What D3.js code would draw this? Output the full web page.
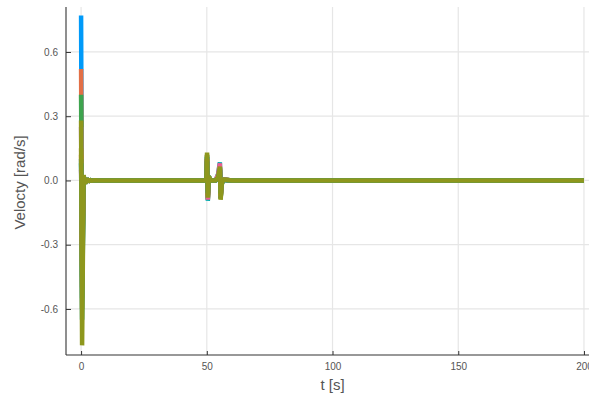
<!DOCTYPE html>
<html>
<head>
<meta charset="utf-8">
<script src="https://cdn.jsdelivr.net/npm/d3@7"></script>
<style>
  body { margin: 0; background: #fff; }
  svg { display: block; font-family: 'Liberation Sans', Arial, sans-serif; }
</style>
</head>
<body>
<svg id="chart" width="589" height="398"></svg>
<script>
// sample times [s], shared by every joint
const time = [0, 0.4, 1.0, 1.6, 2.2, 2.8, 3.5, 4.2, 5, 7, 49.8, 50.1, 50.4, 50.8, 51.4, 53.5, 54.5, 55.2, 55.5, 55.9, 56.5, 60, 100, 200]

// joint velocities [rad/s]
const v1 = [0.77, -0.55, 0.02, -0.014, 0.009, -0.005, 0.003, -0.001, 0.0005, 0, 0, 0.11, -0.07, 0.015, 0, 0, 0.01, 0.05, -0.07, -0.015, 0.004, 0, 0, 0]
const v2 = [0.52, -0.5, 0.018, -0.012, 0.008, -0.004, 0.002, -0.001, 0.0005, 0, 0, 0.1, -0.08, 0.012, 0, 0, 0.01, 0.06, -0.08, -0.012, 0.003, 0, 0, 0]
const v3 = [0.40, -0.45, 0.016, -0.011, 0.007, -0.004, 0.002, -0.001, 0, 0, 0, 0.12, -0.085, 0.018, 0, 0, 0.015, 0.06, -0.085, -0.02, 0.005, 0, 0, 0]
const v4 = [0.25, -0.35, 0.014, -0.009, 0.006, -0.003, 0.002, -0.001, 0, 0, 0, 0.09, -0.06, 0.01, 0, 0, 0.012, 0.05, -0.06, -0.01, 0.003, 0, 0, 0]
const v5 = [0.15, -0.6, 0.02, -0.013, 0.008, -0.005, 0.003, -0.001, 0.0005, 0, 0, 0.12, -0.09, 0.02, 0, 0, 0.015, 0.065, -0.085, -0.015, 0.004, 0, 0, 0]
const v6 = [0.10, -0.65, 0.022, -0.015, 0.009, -0.005, 0.003, -0.001, 0.0005, 0, 0, 0.11, -0.095, 0.02, 0, 0, 0.03, 0.085, -0.08, -0.02, 0.005, 0, 0, 0]
const v7 = [0.05, -0.3, 0.012, -0.008, 0.005, -0.003, 0.001, -0.0005, 0, 0, 0, 0.1, -0.09, 0.015, 0, 0, 0.028, 0.08, -0.075, -0.015, 0.004, 0, 0, 0]
const v8 = [0.12, -0.4, 0.016, -0.01, 0.006, -0.004, 0.002, -0.001, 0, 0, 0, 0.1, -0.07, 0.012, 0, 0, 0.012, 0.055, -0.07, -0.012, 0.003, 0, 0, 0]
const v9 = [0.08, -0.25, 0.012, -0.008, 0.005, -0.003, 0.001, -0.0005, 0, 0, 0, 0.09, -0.06, 0.01, 0, 0, 0.01, 0.05, -0.06, -0.01, 0.002, 0, 0, 0]
const v10 = [0.28, -0.77, 0.025, -0.016, 0.01, -0.006, 0.003, -0.001, 0.0005, 0, 0, 0.13, -0.08, 0.02, 0, 0, 0.015, 0.065, -0.09, -0.02, 0.005, 0, 0, 0]
const velocities = [v1, v2, v3, v4, v5, v6, v7, v8, v9, v10]

const xTicks = [0, 50, 100, 150, 200]
const yTicks = [-0.6, -0.3, 0.0, 0.3, 0.6]
const xLabel = 't [s]'
const yLabel = 'Velocty [rad/s]'

// Plots.jl default palette
const palette = ['#009AF9', '#E26F46', '#3EA44E', '#C271D2', '#AC8E18', '#00A9AD', '#ED5E93', '#C68225', '#00A98D', '#8E971D']

const svg = d3.select('#chart')
const plot = { left: 66, right: 589, top: 7, bottom: 355 }
const textColor = '#555'

const x = d3.scaleLinear().domain([-6, 202]).range([plot.left, plot.right])
const y = d3.scaleLinear().domain([-0.815, 0.81]).range([plot.bottom, plot.top])

// grid
svg.append('g')
  .selectAll('line')
  .data(xTicks)
  .join('line')
  .attr('x1', d => x(d)).attr('x2', d => x(d))
  .attr('y1', plot.top).attr('y2', plot.bottom)
  .style('stroke', '#e6e6e6')
  .style('stroke-width', 1.2)

svg.append('g')
  .selectAll('line')
  .data(yTicks)
  .join('line')
  .attr('x1', plot.left).attr('x2', plot.right)
  .attr('y1', d => y(d)).attr('y2', d => y(d))
  .style('stroke', '#e6e6e6')
  .style('stroke-width', 1.2)

// series
const line = d3.line()
  .x((d, i) => x(time[i]))
  .y(d => y(d))

svg.append('g')
  .selectAll('path')
  .data(velocities)
  .join('path')
  .attr('d', line)
  .style('fill', 'none')
  .style('stroke', (d, i) => palette[i])
  .style('stroke-width', 4.5)
  .style('stroke-linejoin', 'bevel')

// axes
const xAxis = svg.append('g')
  .attr('transform', `translate(0,${plot.bottom})`)
  .call(d3.axisBottom(x).tickValues(xTicks).tickSize(-4).tickPadding(8).tickFormat(d3.format('d')))
const yAxis = svg.append('g')
  .attr('transform', `translate(${plot.left},0)`)
  .call(d3.axisLeft(y).tickValues(yTicks).tickSize(-5).tickPadding(8).tickFormat(d3.format('.1f')))

for (const axis of [xAxis, yAxis]) {
  axis.select('.domain').style('stroke', '#333').style('stroke-width', 1.1)
  axis.selectAll('.tick line').style('stroke', '#333').style('stroke-width', 1)
  axis.selectAll('.tick text')
    .style('fill', textColor)
    .style('font-size', '10px')
    .style('font-family', "'Liberation Sans', Arial, sans-serif")
}
xAxis.select('.domain').attr('d', `M${plot.left},0H${plot.right}`)
yAxis.select('.domain').attr('d', `M0,${plot.bottom}V${plot.top}`)
yAxis.selectAll('.tick text').text(d => d3.format('.1f')(d).replace('−', '-'))

// labels
svg.append('text')
  .text(xLabel)
  .attr('x', x(100))
  .attr('y', 390)
  .attr('text-anchor', 'middle')
  .style('font-size', '15px')
  .style('fill', textColor)

svg.append('text')
  .text(yLabel)
  .attr('transform', `translate(25,${y(0) + 2}) rotate(-90)`)
  .attr('text-anchor', 'middle')
  .style('font-size', '15px')
  .style('fill', textColor)
</script>
</body>
</html>
